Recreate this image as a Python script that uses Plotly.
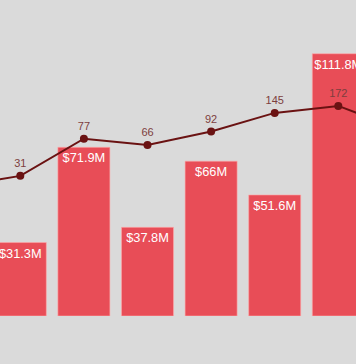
import plotly.graph_objects as go

# Data
bar_positions = [0, 1, 2, 3, 4, 5]
bar_values = [31.3, 71.9, 37.8, 66.0, 51.6, 111.8]
bar_labels = ["$31.3M", "$71.9M", "$37.8M", "$66M", "$51.6M", "$111.8M"]

line_positions = [-1, 0, 1, 2, 3, 4, 5, 6]
line_values = [24, 31, 77, 66, 92, 145, 172, 95]
line_labels = ["24", "31", "77", "66", "92", "145", "172", "95"]

fig = go.Figure()

fig.add_trace(go.Bar(
    x=bar_positions,
    y=bar_values,
    text=bar_labels,
    textposition="inside",
    insidetextanchor="end",
    textangle=0,
    constraintext="none",
    textfont=dict(family="Liberation Sans, Arial, sans-serif", size=12.8, color="white"),
    marker=dict(color="#e84d57", line=dict(color="rgba(255,170,170,0.6)", width=1)),
    width=0.818,
    cliponaxis=True,
    showlegend=False,
    hoverinfo="skip",
))

fig.add_trace(go.Scatter(
    x=line_positions,
    y=line_values,
    yaxis="y2",
    mode="lines+markers+text",
    text=line_labels,
    textposition="top center",
    textfont=dict(family="Liberation Sans, Arial, sans-serif", size=11, color="#7d3e3e"),
    line=dict(color="#6a1212", width=2),
    marker=dict(color="#6a1212", size=8),
    cliponaxis=True,
    showlegend=False,
    hoverinfo="skip",
))

fig.update_layout(
    width=356,
    height=364,
    margin=dict(l=0, r=0, t=0, b=47.5),
    paper_bgcolor="#dadada",
    plot_bgcolor="#dadada",
    xaxis=dict(range=[-0.319, 5.278], visible=False, showgrid=False, zeroline=False),
    yaxis=dict(range=[0, 134.7], visible=False, showgrid=False, zeroline=False),
    yaxis2=dict(type="log", range=[0, 3.363], overlaying="y", visible=False,
                showgrid=False, zeroline=False),
    bargap=0.18,
)

fig.write_html(
    "out.html",
    config={"displayModeBar": False},
    post_script="document.body.style.margin='0';document.body.style.background='#dadada';",
)
